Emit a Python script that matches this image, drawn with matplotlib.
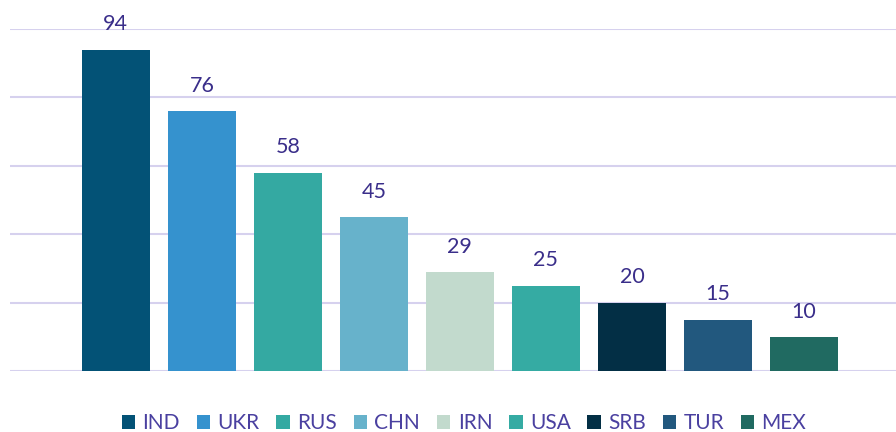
import matplotlib
matplotlib.use("Agg")
import matplotlib.pyplot as plt
from matplotlib.patches import Patch

plt.rcParams['font.family'] = ['Lato', 'DejaVu Sans']

countries = ['IND', 'UKR', 'RUS', 'CHN', 'IRN', 'USA', 'SRB', 'TUR', 'MEX']
values = [94, 76, 58, 45, 29, 25, 20, 15, 10]
colors = ['#035276', '#3592CE', '#34A9A2', '#67B2CB', '#C2DACD',
          '#35ABA3', '#032F45', '#22587E', '#206A61']

label_color = '#3A2E8A'
legend_color = '#4A40A0'
grid_color = '#D6D1EE'

fig = plt.figure(figsize=(8.96, 4.32), dpi=100)
ax = fig.add_axes([10 / 896, 61 / 432, 886 / 896, 342 / 432])

x = list(range(len(countries)))
bars = ax.bar(x, values, width=0.79, color=colors, zorder=3)
ax.bar_label(bars, labels=[str(v) for v in values], padding=11,
             fontsize=15.5, color=label_color)

ax.set_ylim(0, 100)
ax.set_xlim(-1.23, 9.07)
ax.set_yticks([0, 20, 40, 60, 80, 100])
ax.yaxis.grid(True, color=grid_color, linewidth=1.5, zorder=0)
ax.tick_params(left=False, bottom=False, labelleft=False, labelbottom=False)
for s in ax.spines.values():
    s.set_visible(False)

handles = [Patch(facecolor=c, edgecolor='none') for c in colors]
leg = fig.legend(handles, countries, loc='center', bbox_to_anchor=(464 / 896, 1 - 423 / 432),
                 ncol=9, frameon=False, fontsize=15, handlelength=0.65,
                 handleheight=0.65, handletextpad=0.35, columnspacing=0.8)
for t in leg.get_texts():
    t.set_color(legend_color)

fig.savefig('out.png', dpi=100)
